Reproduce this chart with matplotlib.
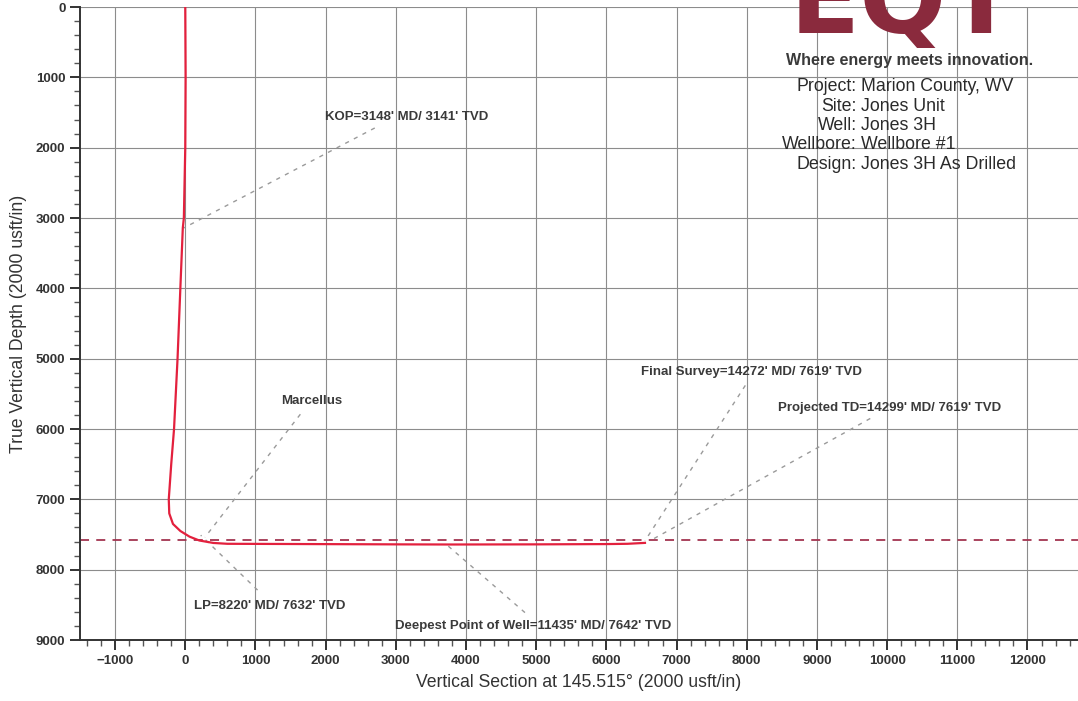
import numpy as np
import matplotlib.pyplot as plt
from matplotlib.ticker import MultipleLocator

plt.rcParams['font.family'] = ['Liberation Sans', 'DejaVu Sans']

# Wellbore trajectory (vertical section, TVD) in usft
vs = [0, 5, 0, -20, -35, -70, -110, -160, -200, -235, -228, -175, -70, 60, 200,
      400, 600, 1500, 3000, 3800, 5000, 6000, 6300, 6550]
tvd = [0, 1000, 2000, 3000, 3141, 4000, 5000, 6000, 6500, 7000, 7200, 7350, 7450,
       7530, 7585, 7620, 7632, 7635, 7640, 7642, 7640, 7636, 7632, 7619]

# Formation top
marcellus_tvd = 7585

# Annotations: label, text position (vs, tvd), leader start, leader end
labels = ["KOP=3148' MD/ 3141' TVD", "Marcellus", "LP=8220' MD/ 7632' TVD",
          "Deepest Point of Well=11435' MD/ 7642' TVD",
          "Final Survey=14272' MD/ 7619' TVD", "Projected TD=14299' MD/ 7619' TVD"]
text_xy = [(3150, 1560), (1800, 5600), (1200, 8510), (4960, 8800), (8070, 5190), (10030, 5700)]
lead_from = [(2700, 1720), (1640, 5790), (1030, 8290), (4840, 8610), (7980, 5380), (9760, 5850)]
lead_to = [(-20, 3141), (280, 7540), (220, 7510), (3730, 7650), (6550, 7590), (6620, 7590)]

info_keys = ["Project:", "Site:", "Well:", "Wellbore:", "Design:"]
info_vals = ["Marion County, WV", "Jones Unit", "Jones 3H", "Wellbore #1", "Jones 3H As Drilled"]

fig = plt.figure(figsize=(10.78, 7.01), dpi=100)
ax = fig.add_axes([0.0742, 0.087, 0.9258, 0.903])

ax.set_xlim(-1500, 12720)
ax.set_ylim(9000, 0)

ax.xaxis.set_major_locator(MultipleLocator(1000))
ax.xaxis.set_minor_locator(MultipleLocator(200))
ax.yaxis.set_major_locator(MultipleLocator(1000))
ax.yaxis.set_minor_locator(MultipleLocator(200))
ax.grid(which='major', color='#8c8c8c', lw=0.8)
ax.set_axisbelow(True)

for s in ['top', 'right']:
    ax.spines[s].set_visible(False)
for s in ['left', 'bottom']:
    ax.spines[s].set_color('#333333')
    ax.spines[s].set_linewidth(1.4)

ax.tick_params(which='major', length=7, width=1.4, color='#333333', labelsize=9.5,
               labelcolor='#333333')
ax.tick_params(which='minor', length=4, width=1.0, color='#555555')
for lab in ax.get_xticklabels() + ax.get_yticklabels():
    lab.set_fontweight('bold')

ax.set_xlabel("Vertical Section at 145.515° (2000 usft/in)", fontsize=12.7, color='#333333', labelpad=5)
ax.set_ylabel("True Vertical Depth (2000 usft/in)", fontsize=12.7, color='#333333')
ax.yaxis.set_label_coords(-0.053, 0.5)

# formation line
ax.axhline(marcellus_tvd, color='#a23550', lw=1.3, ls=(0, (5, 4)), zorder=2)

# trajectory
ax.plot(vs, tvd, color='#e3203d', lw=1.6, zorder=4)

# annotation leaders and text
for lab, (tx, ty), (x0, y0), (x1, y1) in zip(labels, text_xy, lead_from, lead_to):
    ax.plot([x0, x1], [y0, y1], color='#9a9a9a', lw=1.0, ls=(0, (3, 4)), zorder=3)
    ax.text(tx, ty, lab, fontsize=9.5, fontweight='bold', color='#3a3a3a',
            ha='center', va='center', zorder=5)

# logo and header block
fig.text(0.838, 0.953, "EQT", fontsize=74, fontweight='bold', color='#8a2a3d',
         ha='center', va='baseline', family='DejaVu Sans')
fig.text(0.844, 0.914, "Where energy meets innovation.", fontsize=11.5, fontweight='bold',
         color='#3a3a3a', ha='center', va='center')
for i, (k, v) in enumerate(zip(info_keys, info_vals)):
    y = 0.876 - i * 0.0276
    fig.text(0.795, y, k, fontsize=12.8, color='#2a2a2a', ha='right', va='center')
    fig.text(0.799, y, v, fontsize=12.8, color='#2a2a2a', ha='left', va='center')

fig.savefig('out.png', dpi=100)
